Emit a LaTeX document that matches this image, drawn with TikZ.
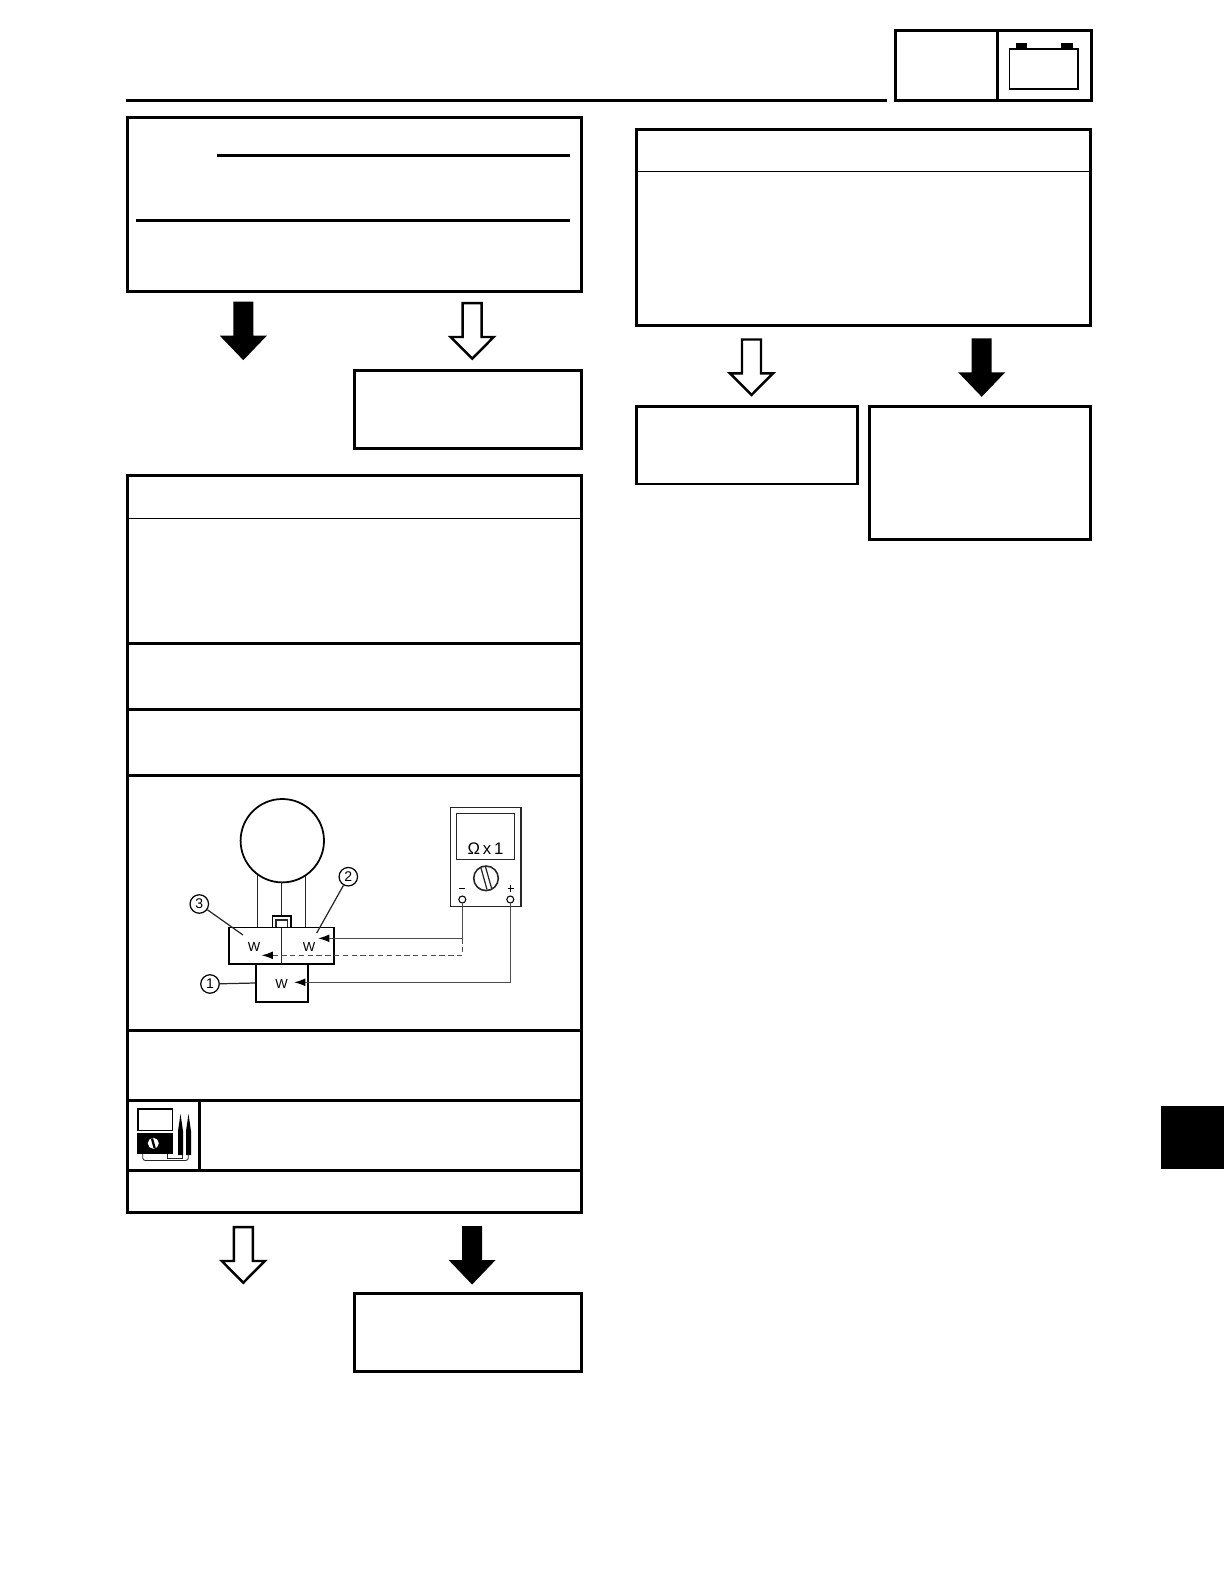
\documentclass[tikz,border=0pt]{standalone}
\usepackage{fontspec}
\setmainfont{Liberation Sans}
\usetikzlibrary{arrows.meta}
\tikzset{
  heavy/.style={draw=black,line width=1.7pt},
  thinrule/.style={draw=black,line width=0.5pt},
  wire/.style={draw=black!85,line width=0.7pt},
  part/.style={draw=black,line width=1pt},
  lead/.style={draw=black!70,line width=0.8pt,-{Latex[length=6.5pt,width=4.5pt,color=black]}},
  leadplain/.style={draw=black!70,line width=0.8pt},
  callnum/.style={circle,draw=black,line width=0.7pt,minimum size=0.37cm,inner sep=0pt,font=\fontsize{8}{8}\selectfont},
  colourlabel/.style={font=\fontsize{7.5}{8}\selectfont,inner sep=0pt},
  whitearrow/.style={fill=white,draw=black,line width=1.4pt,line join=miter,miter limit=10},
  terminal/.style={circle,draw=black,line width=0.6pt,inner sep=0pt,outer sep=0pt,minimum size=0.14cm}
}
\newcommand{\blackflow}[2]{% x centre, y top
  \fill[black] (#1-10,#2) -- (#1+10,#2) -- (#1+10,#2+34) -- (#1+23.5,#2+34) -- (#1,#2+58.5) -- (#1-23.5,#2+34) -- (#1-10,#2+34) -- cycle;}
\newcommand{\whiteflow}[2]{% x centre, y top
  \draw[whitearrow] (#1-9.5,#2+1.2) -- (#1+9.5,#2+1.2) -- (#1+9.5,#2+35) -- (#1+21.5,#2+35) -- (#1,#2+56.7) -- (#1-21.5,#2+35) -- (#1-9.5,#2+35) -- cycle;}
\begin{document}
\begin{tikzpicture}[x=0.02cm,y=-0.02cm]
\useasboundingbox (0,0) rectangle (1224,1584);
% header
\draw[heavy] (126,100.5) -- (887,100.5);
\draw[heavy] (895.5,30.5) rectangle (1091.5,100.5);
\draw[heavy] (997,30.5) -- (997,100.5);
\draw[draw=black,line width=0.9pt] (1009.5,49) rectangle (1078,89);
\fill[black] (1016,43) rectangle (1027,49);
\fill[black] (1061,43) rectangle (1073,49);
% left column top
\draw[heavy] (127.5,117.5) rectangle (581.5,291.5);
\draw[heavy] (217,155.3) -- (570,155.3);
\draw[heavy] (136,220.5) -- (570,220.5);
\blackflow{243.3}{301.7}
\whiteflow{472.2}{302}
\draw[heavy] (354.8,370.3) rectangle (581.5,448.5);
% left column large box
\draw[heavy] (127.5,475.5) rectangle (581.5,1212.2);
\draw[thinrule] (127.5,518) -- (581.5,518);
\draw[heavy] (127.5,643.5) -- (581.5,643.5);
\draw[heavy] (127.5,709.5) -- (581.5,709.5);
\draw[heavy] (127.5,775.5) -- (581.5,775.5);
\draw[heavy] (127.5,1030.5) -- (581.5,1030.5);
\draw[heavy] (127.5,1100.5) -- (581.5,1100.5);
\draw[heavy] (127.5,1170.3) -- (581.5,1170.3);
\draw[heavy] (199.8,1100.5) -- (199.8,1170.3);
% wiring figure
\draw[part] (282.3,840.7) circle (41.7);
\draw[wire] (257.3,875) -- (257.3,927.5);
\draw[wire] (281.7,882) -- (281.7,916);
\draw[wire] (305.3,876) -- (305.3,927.5);
\draw[part,line width=0.9pt] (272.7,927.5) -- (272.7,916) -- (291,916) -- (291,927.5);
\draw[wire] (276,927.5) -- (276,920) -- (287.7,920) -- (287.7,927.5);
\draw[part] (229.3,927.5) rectangle (334,964.3);
\draw[wire] (281.3,927.5) -- (281.3,964.3);
\draw[part] (256,964.3) -- (256,1001.7) -- (308.3,1001.7) -- (308.3,964.3);
\node[colourlabel] (wa) at (254,947) {W};
\node[colourlabel] (wb) at (309,947) {W};
\node[colourlabel] (wc) at (281.7,984) {W};
% meter
\draw[wire,line width=0.8pt] (450.3,807.7) rectangle (521,906.3);
\draw[wire,line width=0.8pt] (456.7,813.3) rectangle (514.3,859.3);
\node[inner sep=0pt,font=\fontsize{9.5}{10}\selectfont] (scale) at (485.5,849) {Ω\,x\,1};
\draw[wire,line width=0.9pt] (486,878.3) circle (12.3);
\draw[wire] (481,868) -- (487,889.5);
\draw[wire] (485.5,866.8) -- (491.5,888);
\node[terminal] (neg) at (462.3,899.5) {};
\node[terminal] (pos) at (510.3,899.5) {};
\draw[black,line width=0.7pt] (458.7,888.5) -- (465,888.5);
\draw[black,line width=0.7pt] (507.5,888.5) -- (514,888.5) (510.7,885.3) -- (510.7,891.7);
\coordinate (ncorner) at (462.3,938.3);
\coordinate (nend) at (318,938.3);
\coordinate (dcorner) at (462.3,955.3);
\coordinate (dend) at (261.5,955.3);
\coordinate (pcorner) at (510.3,982.3);
\coordinate (pend) at (294,982.3);
\draw[lead] (neg) -- (ncorner) -- (nend);
\draw[leadplain,dash pattern=on 3pt off 2pt] (ncorner) -- (dcorner);
\draw[lead,dash pattern=on 3pt off 2pt] (dcorner) -- (dend);
\draw[lead] (pos) -- (pcorner) -- (pend);
% callouts
\node[callnum] (c1) at (210,984) {1};
\node[callnum] (c2) at (348.3,876.7) {2};
\node[callnum] (c3) at (199.3,904) {3};
\coordinate (t1) at (255,983);
\coordinate (t2) at (316.7,933);
\coordinate (t3) at (243,935);
\draw[wire] (c1) -- (t1);
\draw[wire] (c2) -- (t2);
\draw[wire] (c3) -- (t3);
% tester icon
\draw[draw=black,line width=1.1pt] (137.8,1108.8) rectangle (172.5,1130.5);
\fill[black] (137,1133.3) rectangle (173,1153.5);
\fill[white] (153.3,1143.3) circle (5.5);
\draw[black,line width=1.3pt] (152,1138.5) -- (154.6,1148);
\fill[black] (180.5,1114) -- (178,1131) -- (178,1155) -- (183,1155) -- (183,1131) -- cycle;
\fill[black] (188.5,1114) -- (186,1131) -- (186,1155) -- (191,1155) -- (191,1131) -- cycle;
\draw[wire,line width=0.5pt,rounded corners=1.5pt] (142.7,1153.5) -- (142.7,1160.5) -- (188.3,1160.5) -- (188.3,1155);
\draw[wire,line width=0.5pt] (167.3,1153.5) -- (167.3,1158) -- (182.3,1158) -- (182.3,1155);
% bottom of left column
\whiteflow{243.3}{1226}
\blackflow{472.1}{1226}
\draw[heavy] (354.8,1293.8) rectangle (581.5,1371.2);
% right column
\draw[heavy] (636.5,129.5) rectangle (1090.5,325.3);
\draw[thinrule] (636.5,171.3) -- (1090.5,171.3);
\whiteflow{751.5}{338.3}
\blackflow{981.7}{338.3}
\draw[heavy] (636.5,406.5) rectangle (857.5,484);
\draw[heavy] (869.5,406.5) rectangle (1090.5,539.5);
% black tab
\fill[black] (1161,1106) rectangle (1224,1169);
\end{tikzpicture}
\end{document}
